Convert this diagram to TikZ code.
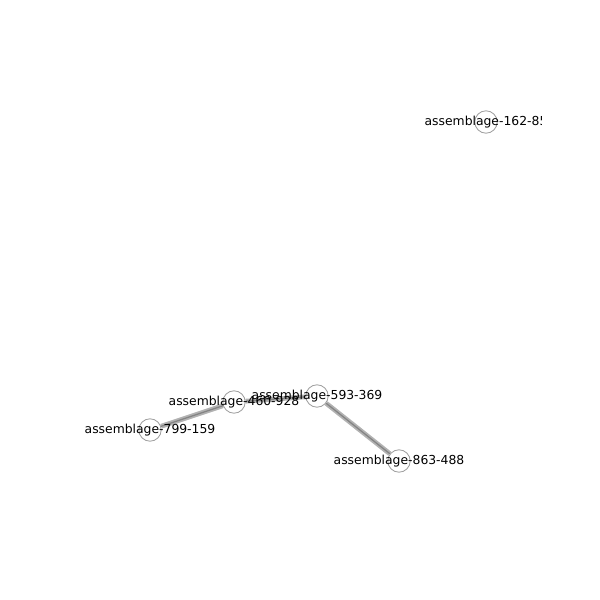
\documentclass[tikz,border=0pt]{standalone}
\usepackage{fontspec}
\setmainfont{DejaVu Sans}
\tikzset{
  vertex/.style={circle, draw=gray!75, line width=0.6pt, fill=white, fill opacity=0.6, draw opacity=1, minimum size=0.56cm, inner sep=0pt},
  tag/.style={font=\fontsize{8.8}{10}\selectfont, inner sep=0pt, text=black},
  link/.style={draw=gray!60, line width=3.4pt},
  linkcore/.style={draw=gray!60!black, line width=0.9pt, opacity=0.45}
}

\begin{document}
\begin{tikzpicture}[x=0.025cm, y=-0.025cm]
\useasboundingbox (0, 0) rectangle (600, 600);
\begin{scope}
\clip (60, 0) rectangle (541, 600);
\node[vertex] (162) at (486, 122) {};
\node[vertex] (460) at (234, 402) {};
\node[vertex] (799) at (150, 430) {};
\node[vertex] (593) at (317, 396) {};
\node[vertex] (863) at (399, 461) {};

\draw[link] (799) -- (460);
\draw[link] (460) -- (593);
\draw[link] (593) -- (863);
\draw[linkcore] (799) -- (460);
\draw[linkcore] (460) -- (593);
\draw[linkcore] (593) -- (863);

\node[tag] at (162) {assemblage-162-85};
\node[tag] at (460) {assemblage-460-928};
\node[tag] at (799) {assemblage-799-159};
\node[tag] at (593) {assemblage-593-369};
\node[tag] at (863) {assemblage-863-488};
\end{scope}
\end{tikzpicture}
\end{document}
